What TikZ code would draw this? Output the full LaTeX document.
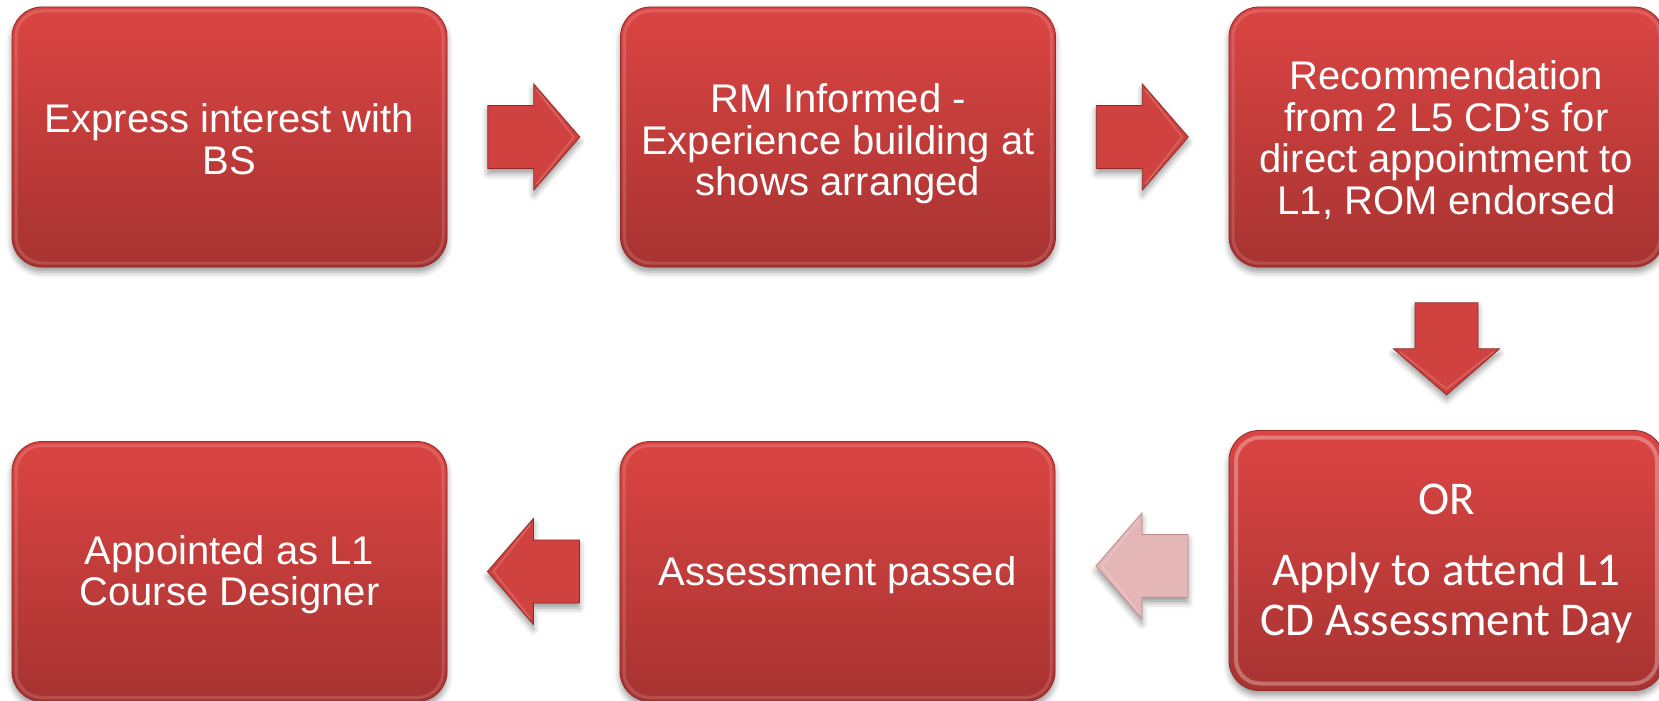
\documentclass[tikz,border=0pt]{standalone}
\usepackage{fontspec}
\setmainfont{Liberation Sans}
\newfontfamily\calfont{Carlito}
\usetikzlibrary{shadows.blur,calc}
\definecolor{boxtop}{HTML}{DB4543}
\definecolor{boxbot}{HTML}{A73331}
\definecolor{boxedge}{HTML}{8E2A28}
\definecolor{arrowred}{HTML}{D04240}
\definecolor{paleA}{HTML}{E4B6B6}
\definecolor{paleEdge}{HTML}{C28C8C}
\tikzset{
  softshadow/.style={blur shadow={shadow xshift=0pt, shadow yshift=-5pt, shadow blur radius=6pt, shadow opacity=40}},
  stepbox/.style={rectangle, rounded corners=30pt, minimum width=435pt, minimum height=260pt,
    inner sep=0pt, top color=boxtop, bottom color=boxbot, draw=boxedge, line width=0.8pt,
    text=white, align=center, font=\fontsize{40}{41.5}\selectfont, softshadow,
    path picture={\draw[white, opacity=.14, line width=3pt, rounded corners=26pt]
      ([shift={(4pt,4pt)}]path picture bounding box.south west) rectangle
      ([shift={(-4pt,-4pt)}]path picture bounding box.north east);}},
  orbox/.style={stepbox, font=\calfont\fontsize{47}{50}\selectfont,
    path picture={\draw[white, opacity=.3, line width=4pt, rounded corners=24pt]
      ([shift={(7pt,7pt)}]path picture bounding box.south west) rectangle
      ([shift={(-7pt,-7pt)}]path picture bounding box.north east);}},
  redarrow/.style={fill=arrowred, draw=boxedge, line width=0.8pt, softshadow},
  palearrow/.style={fill=paleA, draw=paleEdge, line width=0.8pt, softshadow},
  pics/blockarrow/.style={code={
    \path[#1] (-46,-31.5) -- (0,-31.5) -- (0,-53) -- (46,0) -- (0,53) -- (0,31.5) -- (-46,31.5) -- cycle;
    \draw[white, opacity=.18, line width=1.5pt, line join=round] (3,-47) -- (40,0) -- (3,47);
  }}
}
\begin{document}
\begin{tikzpicture}[x=1pt, y=-1pt]
  \useasboundingbox (0,0) rectangle (1659,701);
  \node[stepbox, text height=74.5pt] (b1) at (229.5,137) {Express interest with\\BS};
  \node[stepbox, text height=126pt] (b2) at (838,137) {RM Informed -\\Experience building at\\shows arranged};
  \node[stepbox, text height=159.5pt] (b3) at (1446.5,137) {Recommendation\\from 2 L5 CD’s for\\direct appointment to\\L1, ROM endorsed};
  \node[orbox, text height=158pt] (b6) at (1446.5,560.5) {OR\\[21pt]Apply to attend L1\\CD Assessment Day};
  \node[stepbox, text height=36pt] (b5) at (837.5,571.5) {Assessment passed};
  \node[stepbox, text height=76.5pt] (b4) at (229.5,571.5) {Appointed as L1\\Course Designer};

  \pic at ($(b1.east)!0.5!(b2.west)$) {blockarrow=redarrow};
  \pic at ($(b2.east)!0.5!(b3.west)$) {blockarrow=redarrow};
  \pic[rotate=-90] at ($(b3.south)!0.5!(b6.north)$) {blockarrow=redarrow};
  \pic[rotate=180] at ($(b6.west)!0.5!(b5.east)$) {blockarrow=palearrow};
  \pic[rotate=180] at ($(b5.west)!0.5!(b4.east)$) {blockarrow=redarrow};
\end{tikzpicture}
\end{document}
